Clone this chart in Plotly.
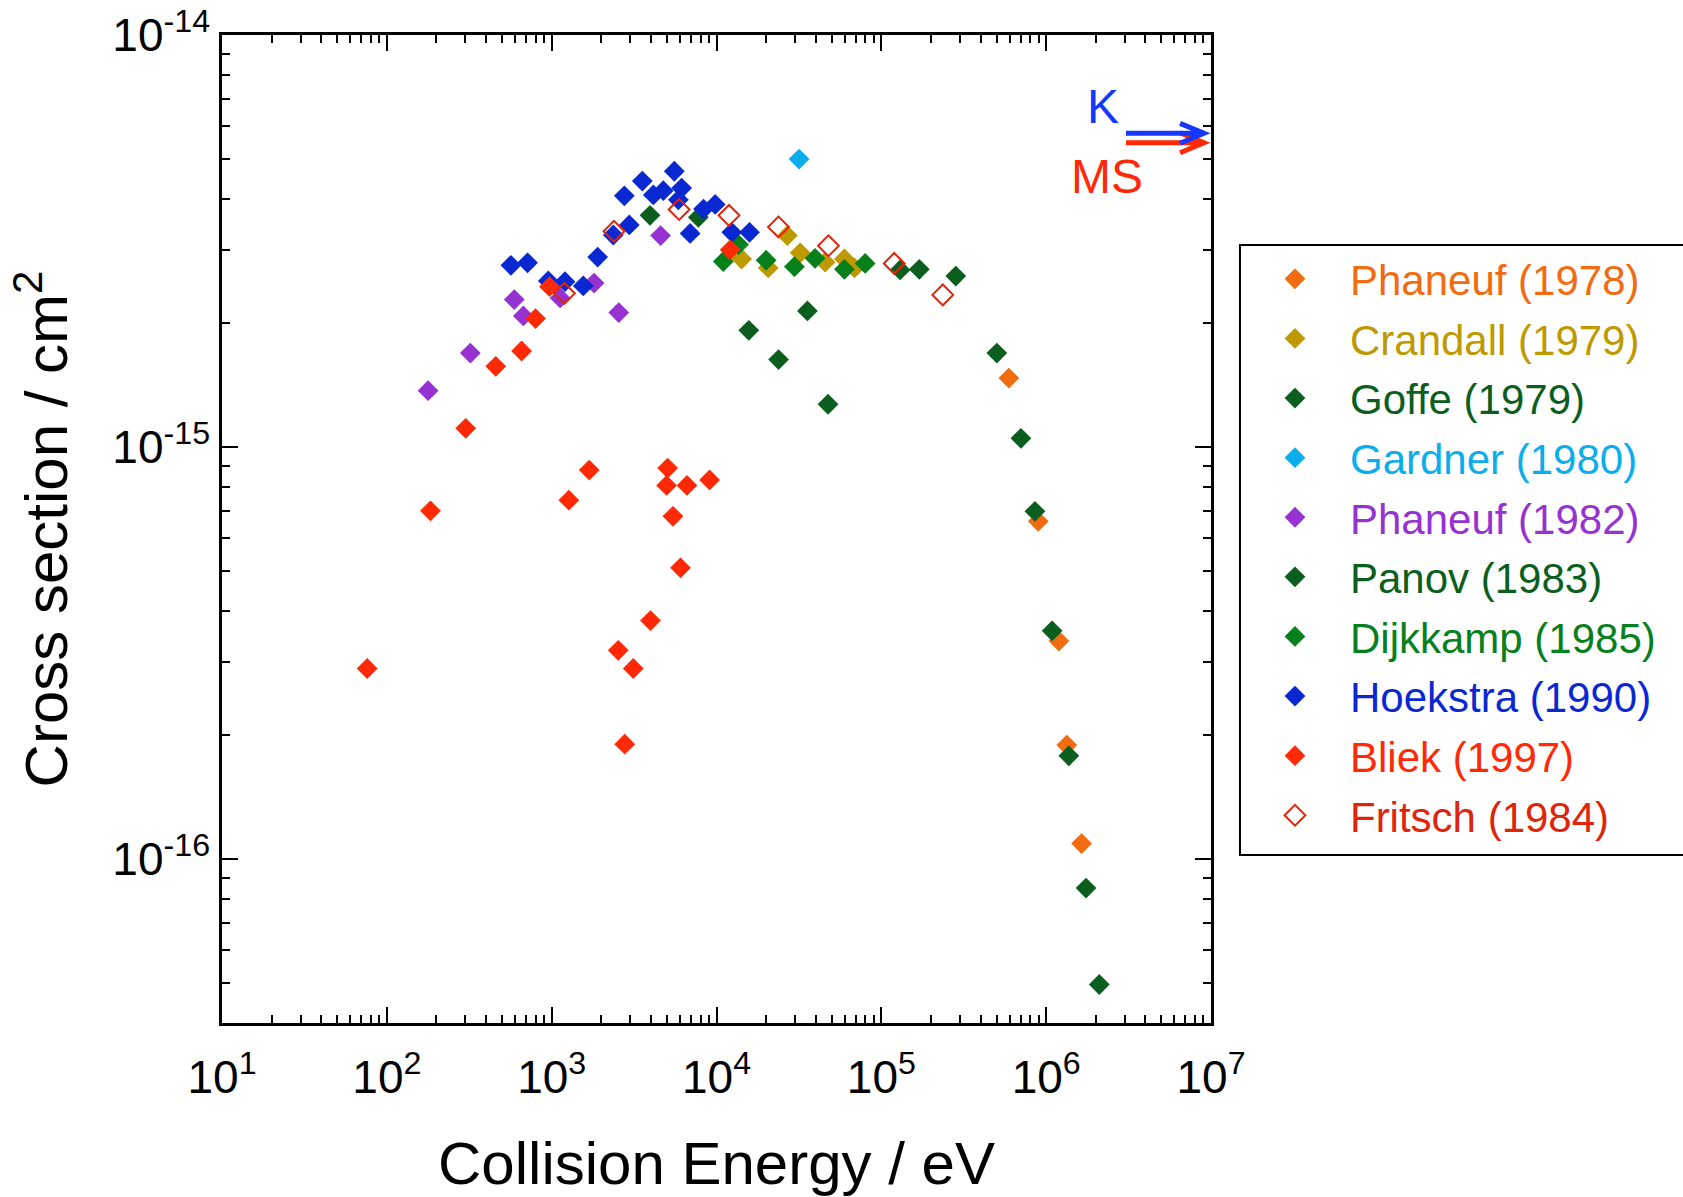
import plotly.graph_objects as go

# ---------------- data ----------------
phaneuf78_E = [5.94e5, 8.95e5, 1.195e6, 1.334e6, 1.64e6]
phaneuf78_S = [1.47e-15, 6.6e-16, 3.38e-16, 1.89e-16, 1.09e-16]

crandall_E = [1.42e4, 2.06e4, 2.69e4, 3.22e4, 4.56e4, 5.97e4, 6.87e4]
crandall_S = [2.86e-15, 2.72e-15, 3.26e-15, 2.96e-15, 2.81e-15, 2.86e-15, 2.72e-15]

goffe_E = [3.95e3, 7.76e3, 1.57e4, 2.38e4, 3.56e4, 4.75e4, 1.30e5, 1.70e5, 2.83e5]
goffe_S = [3.65e-15, 3.61e-15, 1.92e-15, 1.63e-15, 2.14e-15, 1.27e-15, 2.69e-15, 2.70e-15, 2.60e-15]

gardner_E = [3.17e4]
gardner_S = [5.0e-15]

phaneuf82_E = [178, 321, 593, 673, 1125, 1808, 2553, 4580]
phaneuf82_S = [1.37e-15, 1.69e-15, 2.28e-15, 2.08e-15, 2.30e-15, 2.50e-15, 2.12e-15, 3.26e-15]

panov_E = [5.02e5, 7.03e5, 8.55e5, 1.087e6, 1.373e6, 1.745e6, 2.10e6]
panov_S = [1.69e-15, 1.05e-15, 6.98e-16, 3.58e-16, 1.78e-16, 8.5e-17, 4.96e-17]

dijkkamp_E = [1.10e4, 1.36e4, 2.00e4, 2.97e4, 3.96e4, 5.97e4, 7.98e4]
dijkkamp_S = [2.82e-15, 3.10e-15, 2.84e-15, 2.74e-15, 2.87e-15, 2.70e-15, 2.79e-15]

hoekstra_E = [566, 714, 954, 1205, 1555, 1901, 2366, 2958, 2760, 3548, 4137, 4756,
              5546, 6147, 5869, 6918, 8340, 9820, 12380, 15860]
hoekstra_S = [2.76e-15, 2.80e-15, 2.53e-15, 2.52e-15, 2.46e-15, 2.89e-15, 3.27e-15, 3.46e-15,
              4.07e-15, 4.42e-15, 4.09e-15, 4.19e-15, 4.67e-15, 4.25e-15, 3.98e-15, 3.30e-15,
              3.78e-15, 3.88e-15, 3.32e-15, 3.32e-15]

bliek_E = [76, 184, 301, 458, 657, 798, 970, 1271, 1690, 2535, 2775, 3126, 3975, 5053,
           4980, 5445, 6050, 6620, 9080, 12100]
bliek_S = [2.90e-16, 7.0e-16, 1.11e-15, 1.57e-15, 1.71e-15, 2.05e-15, 2.45e-15, 7.43e-16,
           8.79e-16, 3.21e-16, 1.90e-16, 2.90e-16, 3.79e-16, 8.89e-16, 8.07e-16, 6.79e-16,
           5.09e-16, 8.07e-16, 8.32e-16, 3.01e-15]

fritsch_E = [1194, 2388, 5930, 11910, 23770, 47760, 119700, 236000]
fritsch_S = [2.36e-15, 3.34e-15, 3.77e-15, 3.65e-15, 3.42e-15, 3.08e-15, 2.79e-15, 2.34e-15]

x_tickvals = [1e1, 1e2, 1e3, 1e4, 1e5, 1e6, 1e7]
x_ticktext = ["10<sup>1</sup>", "10<sup>2</sup>", "10<sup>3</sup>", "10<sup>4</sup>",
              "10<sup>5</sup>", "10<sup>6</sup>", "10<sup>7</sup>"]
y_tickvals = [1e-16, 1e-15, 1e-14]
y_ticktext = ["10<sup>-16</sup>", "10<sup>-15</sup>", "10<sup>-14</sup>"]

# ---------------- styling ----------------
series = [
    ("Phaneuf (1978)", phaneuf78_E, phaneuf78_S, "#F26B10", "diamond"),
    ("Crandall (1979)", crandall_E, crandall_S, "#BF9900", "diamond"),
    ("Goffe (1979)", goffe_E, goffe_S, "#0B5E1E", "diamond"),
    ("Gardner (1980)", gardner_E, gardner_S, "#0BADEB", "diamond"),
    ("Phaneuf (1982)", phaneuf82_E, phaneuf82_S, "#9632D2", "diamond"),
    ("Panov (1983)", panov_E, panov_S, "#0B5E1E", "diamond"),
    ("Dijkkamp (1985)", dijkkamp_E, dijkkamp_S, "#06801C", "diamond"),
    ("Hoekstra (1990)", hoekstra_E, hoekstra_S, "#0A28D2", "diamond"),
    ("Bliek (1997)", bliek_E, bliek_S, "#FF2A05", "diamond"),
    ("Fritsch (1984)", fritsch_E, fritsch_S, "#E0240A", "diamond-open"),
]

fig = go.Figure()
for label, xs, ys, col, sym in series:
    if sym == "diamond-open":
        mk = dict(symbol=sym, size=16, color=col, line=dict(width=2, color=col))
    else:
        mk = dict(symbol=sym, size=16, color=col, line=dict(width=0))
    fig.add_trace(go.Scatter(
        x=xs, y=ys, mode="markers", marker=mk,
        name=f'<span style="color:{col}">{label}</span>',
        legendgroup=label,
    ))

minor_x = [m * 10 ** e for e in range(1, 7) for m in range(2, 10)]
minor_y = [m * 10 ** e for e in range(-17, -14) for m in range(2, 10)]

axis_common = dict(
    type="log", showgrid=False, zeroline=False,
    showline=True, linewidth=2.5, linecolor="black", mirror="allticks",
    ticks="inside", ticklen=16, tickwidth=2, tickcolor="black",
    tickmode="array",
)

fig.update_layout(
    width=1683, height=1197,
    margin=dict(l=222, r=472, t=35, b=174, autoexpand=False),
    paper_bgcolor="white", plot_bgcolor="white",
    font=dict(family="Liberation Sans, Arial, sans-serif", color="black"),
    xaxis=dict(
        **axis_common, range=[1, 7],
        tickvals=x_tickvals, ticktext=x_ticktext,
        tickfont=dict(size=46), ticklabelstandoff=12,
        minor=dict(ticks="inside", ticklen=8, tickwidth=2, tickcolor="black",
                   tickmode="array", tickvals=minor_x),
        title=dict(text="Collision Energy / eV", font=dict(size=60), standoff=44),
    ),
    yaxis=dict(
        **axis_common, range=[-16.398, -14],
        tickvals=y_tickvals, ticktext=y_ticktext,
        tickfont=dict(size=46),
        minor=dict(ticks="inside", ticklen=8, tickwidth=2, tickcolor="black",
                   tickmode="array", tickvals=minor_y),
        title=dict(text="Cross section / cm<sup>2</sup>", font=dict(size=60), standoff=26),
    ),
    showlegend=True,
    legend=dict(
        x=1.0293, y=0.7874, xanchor="left", yanchor="top",
        borderwidth=0, bgcolor="rgba(0,0,0,0)",
        font=dict(size=42), itemwidth=100, tracegroupgap=2,
    ),
)

# legend frame (reference frame runs past the right edge of the page)
fig.add_shape(type="rect", xref="paper", yref="paper",
              x0=1.0293, x1=1.50, y0=0.170, y1=0.7874,
              line=dict(color="black", width=2), fillcolor="rgba(0,0,0,0)")

# K / MS arrows (drawn in paper coordinates)
fig.add_shape(type="path", xref="paper", yref="paper",
              path="M 0.9141,0.8910 L 0.9919,0.8910 M 0.9687,0.9011 L 0.9929,0.8910 L 0.9687,0.8808",
              line=dict(color="#FF2A05", width=5))
fig.add_shape(type="path", xref="paper", yref="paper",
              path="M 0.9141,0.9005 L 0.9919,0.9005 M 0.9687,0.9106 L 0.9929,0.9005 L 0.9687,0.8904",
              line=dict(color="#1438FF", width=5))
fig.add_annotation(x=0.8907, y=0.9275, xref="paper", yref="paper", text="K",
                   xanchor="center", yanchor="middle",
                   showarrow=False, font=dict(size=48, color="#1438FF"))
fig.add_annotation(x=0.8945, y=0.8566, xref="paper", yref="paper", text="MS",
                   xanchor="center", yanchor="middle",
                   showarrow=False, font=dict(size=48, color="#FF2A05"))

fig.write_html("out.html")
